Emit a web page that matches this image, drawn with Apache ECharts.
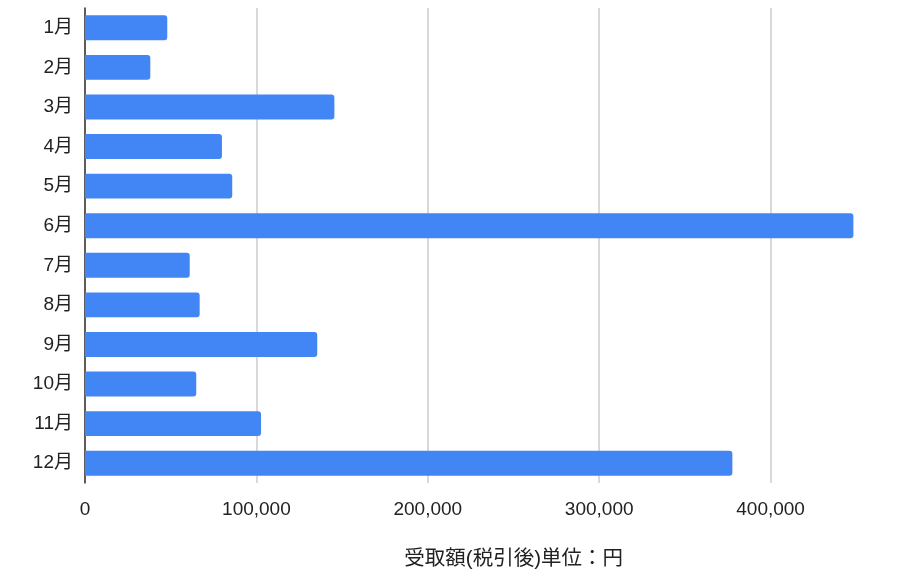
<!DOCTYPE html>
<html><head><meta charset="utf-8">
<script src="https://cdn.jsdelivr.net/npm/echarts@6/dist/echarts.min.js"></script>
<style>html,body{margin:0;padding:0;background:#fff}#c{width:921px;height:569px}</style>
</head><body><div id="c"></div>
<script>
const months = ['1月','2月','3月','4月','5月','6月','7月','8月','9月','10月','11月','12月'];
const amounts = [48000, 38100, 145500, 79900, 85900, 448300, 61100, 66900, 135500, 64900, 102700, 377700];
const axisTitle = '受取額(税引後)単位：円';

const chart = echarts.init(document.getElementById('c'), null, {renderer: 'canvas'});
const font = '"Liberation Sans", Arial, "Noto Sans CJK JP", sans-serif';
chart.setOption({
  animation: false,
  textStyle: {fontFamily: font},
  grid: {left: 85, right: 64.7, top: 8, bottom: 86, containLabel: false, outerBoundsMode: 'none'},
  xAxis: {
    type: 'value', min: 0, max: 450000, interval: 100000,
    name: axisTitle, nameLocation: 'middle', nameGap: 66,
    nameTextStyle: {fontSize: 20.5, color: '#222', fontFamily: font, padding: [0, 0, 0, 86]},
    nameMoveOverlap: false,
    axisLine: {show: false}, axisTick: {show: false},
    axisLabel: {fontSize: 19, color: '#222', margin: 17, showMaxLabel: false,
      formatter: v => v.toLocaleString('en-US')},
    splitLine: {showMaxLine: false, lineStyle: {color: '#cccccc', width: 1.5}}
  },
  yAxis: {
    type: 'category', data: months, inverse: true,
    axisLine: {lineStyle: {color: '#333', width: 1.5}},
    axisTick: {show: false},
    axisLabel: {fontSize: 19, color: '#222', margin: 12}
  },
  series: [{
    type: 'bar', data: amounts, barCategoryGap: '37%',
    itemStyle: {color: '#4285F4', borderRadius: [0, 3, 3, 0]}
  }]
});
</script></body></html>
